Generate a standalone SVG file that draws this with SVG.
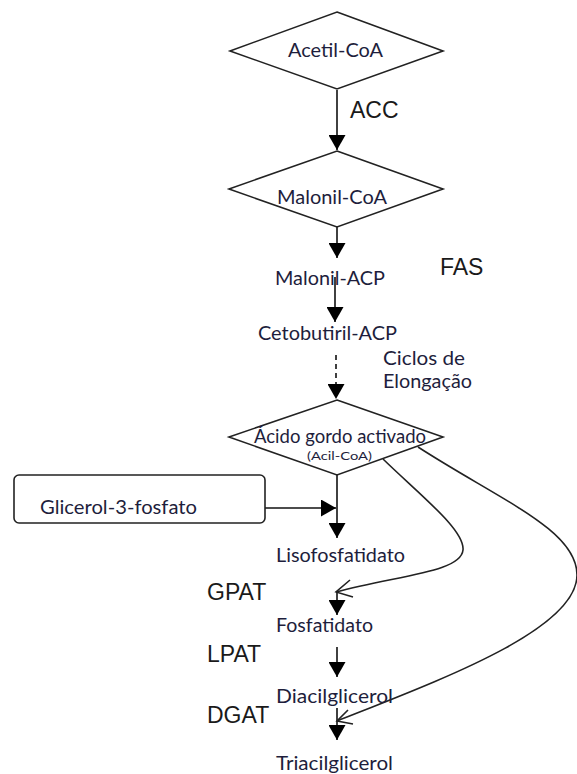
<svg xmlns="http://www.w3.org/2000/svg" width="577" height="774" viewBox="0 0 577 774">
<style>
.node{fill:#fff;stroke:#222;stroke-width:1.6}
.t{font-family:Lato,"Open Sans","Liberation Sans",sans-serif;font-size:19.5px;fill:#1e1e3c}
.s{font-family:Lato,"Open Sans","Liberation Sans",sans-serif;font-size:12px;fill:#1e1e3c}
.e{font-family:"Liberation Sans",Arial,sans-serif;font-size:23px;fill:#1a1a1a}
.ln{fill:none;stroke:#111;stroke-width:1.6}
.cv{fill:none;stroke:#222;stroke-width:1.6}
.dash{stroke-dasharray:5,4}
</style>
<defs>
<marker id="ah" viewBox="0 0 15 17" refX="15" refY="8.5" markerWidth="15" markerHeight="17" markerUnits="userSpaceOnUse" orient="auto">
<path d="M0,0 L15,8.5 L0,17 Z" fill="#000"/>
</marker>
</defs>
<rect width="577" height="774" fill="#fff"/>

<g id="connectors">
<line class="ln" x1="337" y1="90" x2="337" y2="150" marker-end="url(#ah)"/>
<line class="ln" x1="337" y1="227" x2="337" y2="258" marker-end="url(#ah)"/>
<line class="ln" x1="335" y1="277" x2="335" y2="322" marker-end="url(#ah)"/>
<line class="ln dash" x1="336" y1="355" x2="336" y2="399" marker-end="url(#ah)"/>
<line class="ln" x1="337" y1="475" x2="337" y2="538" marker-end="url(#ah)"/>
<line class="ln" x1="265" y1="508" x2="336" y2="508" marker-end="url(#ah)"/>
<line class="ln" x1="337" y1="592" x2="337" y2="615" marker-end="url(#ah)"/>
<line class="ln" x1="337" y1="647" x2="337" y2="677" marker-end="url(#ah)"/>
<line class="ln" x1="337" y1="708" x2="337" y2="740" marker-end="url(#ah)"/>
<path class="cv" d="M383,459 C420,495 465,530 463,550 C461,572 400,575 336,592"/>
<path class="cv" d="M350,580 L336,592 L353,597"/>
<path class="cv" d="M418,447 C500,500 577,530 577,575 C577,630 440,680 337,721"/>
<path class="cv" d="M348,710 L337,721 L353,724"/>
</g>

<g id="acetil-coa">
<polygon class="node" points="337,12 443,51 337,89 230,51"/>
<text class="t" x="288" y="57" textLength="95" lengthAdjust="spacingAndGlyphs">Acetil-CoA</text>
</g>
<g id="acc"><text class="e" x="350" y="118">ACC</text></g>

<g id="malonil-coa">
<polygon class="node" points="337,151 443,189 337,227 229,189"/>
<text class="t" x="277" y="204" textLength="110" lengthAdjust="spacingAndGlyphs">Malonil-CoA</text>
</g>

<g id="fas"><text class="e" x="440" y="275">FAS</text></g>

<g id="malonil-acp"><text class="t" x="275" y="285" textLength="110" lengthAdjust="spacingAndGlyphs">Malonil-ACP</text></g>
<g id="cetobutiril-acp"><text class="t" x="258" y="340" textLength="139" lengthAdjust="spacingAndGlyphs">Cetobutiril-ACP</text></g>

<g id="ciclos">
<text class="t" x="383" y="365" textLength="82" lengthAdjust="spacingAndGlyphs">Ciclos de</text>
<text class="t" x="383" y="388" textLength="89" lengthAdjust="spacingAndGlyphs">Elongação</text>
</g>

<g id="acido-gordo">
<polygon class="node" points="337,400 443,437 337,475 229,437"/>
<text class="t" x="254" y="443" textLength="172" lengthAdjust="spacingAndGlyphs">Ácido gordo activado</text>
<text class="s" x="307" y="460" textLength="65" lengthAdjust="spacingAndGlyphs">(Acil-CoA)</text>
</g>

<g id="glicerol">
<rect class="node" x="14" y="475" width="251" height="48" rx="5"/>
<text class="t" x="40" y="514" textLength="157" lengthAdjust="spacingAndGlyphs">Glicerol-3-fosfato</text>
</g>

<g id="lisofosfatidato"><text class="t" x="276" y="562" textLength="129" lengthAdjust="spacingAndGlyphs">Lisofosfatidato</text></g>
<g id="gpat"><text class="e" x="207" y="600">GPAT</text></g>
<g id="fosfatidato"><text class="t" x="276" y="632" textLength="97" lengthAdjust="spacingAndGlyphs">Fosfatidato</text></g>
<g id="lpat"><text class="e" x="207" y="662">LPAT</text></g>
<g id="diacilglicerol"><text class="t" x="276" y="703" textLength="117" lengthAdjust="spacingAndGlyphs">Diacilglicerol</text></g>
<g id="dgat"><text class="e" x="207" y="723">DGAT</text></g>
<g id="triacilglicerol"><text class="t" x="276" y="770" textLength="117" lengthAdjust="spacingAndGlyphs">Triacilglicerol</text></g>
</svg>
